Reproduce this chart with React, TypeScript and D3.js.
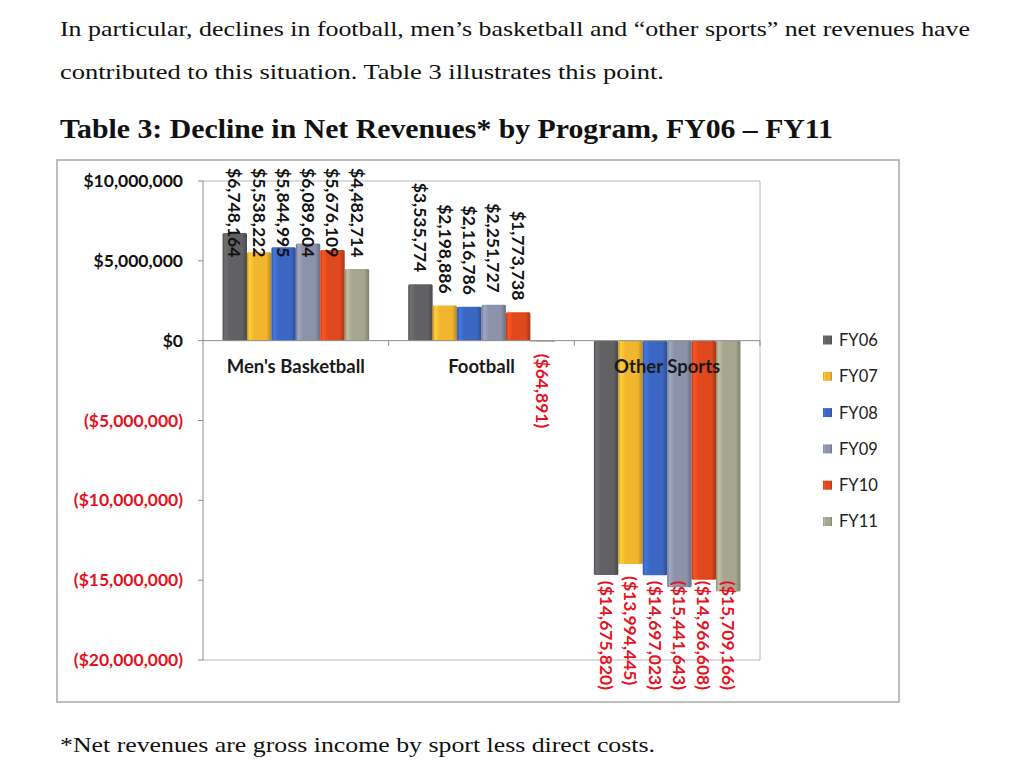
import React, { useEffect, useRef } from "react";
import * as d3 from "d3";

// Net revenue by program, FY06 – FY11
const categories = ["Men's Basketball", "Football", "Other Sports"];
const years = ["FY06", "FY07", "FY08", "FY09", "FY10", "FY11"];
const fy06 = [6748164, 3535774, -14675820];
const fy07 = [5538222, 2198886, -13994445];
const fy08 = [5844995, 2116786, -14697023];
const fy09 = [6089604, 2251727, -15441643];
const fy10 = [5676109, 1773738, -14966608];
const fy11 = [4482714, -64891, -15709166];
const seriesValues = [fy06, fy07, fy08, fy09, fy10, fy11];
const seriesColors = ["#616163", "#f1b52e", "#3b67c3", "#8b92aa", "#e0481d", "#a7a78f"];
const yTicks = [10000000, 5000000, 0, -5000000, -10000000, -15000000, -20000000];

const introLines = [
  "In particular, declines in football, men\u2019s basketball and \u201cother sports\u201d net revenues have",
  "contributed to this situation.  Table 3 illustrates this point.",
];
const titleText = "Table 3:  Decline in Net Revenues* by Program, FY06 \u2013 FY11";
const footnoteText = "*Net revenues are gross income by sport less direct costs.";

const RED = "#e5121f";
const LABEL_FONT = "Lato, 'Open Sans', sans-serif";

const money = (v: number) => {
  const s = "$" + d3.format(",")(Math.abs(Math.round(v)));
  return v < 0 ? `(${s})` : s;
};

export default function App() {
  const ref = useRef<SVGSVGElement | null>(null);

  useEffect(() => {
    const svg = d3.select(ref.current);
    svg.selectAll("*").remove();

    const plot = { left: 203, right: 760, top: 181, bottom: 660 };
    const frame = { x: 57, y: 160, w: 842, h: 542 };

    const y = d3.scaleLinear().domain([-20000000, 10000000]).range([plot.bottom, plot.top]);
    const x0 = d3.scaleBand<string>().domain(categories).range([plot.left, plot.right]).padding(0);
    const x1 = d3
      .scaleBand<string>()
      .domain(years)
      .range([0, x0.bandwidth()])
      .paddingInner(0)
      .paddingOuter(0.8);

    // Gradients giving the bars their rounded, lit look
    const defs = svg.append("defs");
    seriesColors.forEach((c, i) => {
      const base = d3.color(c)!;
      const g = defs
        .append("linearGradient")
        .attr("id", `bar-grad-${i}`)
        .attr("x1", "0").attr("x2", "1").attr("y1", "0").attr("y2", "0");
      g.append("stop").attr("offset", "0%").attr("stop-color", base.darker(0.6).formatHex());
      g.append("stop").attr("offset", "10%").attr("stop-color", base.brighter(0.4).formatHex());
      g.append("stop").attr("offset", "30%").attr("stop-color", base.formatHex());
      g.append("stop").attr("offset", "80%").attr("stop-color", base.formatHex());
      g.append("stop").attr("offset", "100%").attr("stop-color", base.darker(0.8).formatHex());
    });

    // Page text
    const serif = "'Liberation Serif', 'Times New Roman', serif";
    svg.append("text").attr("x", 60).attr("y", 36).attr("font-family", serif).attr("font-size", 22)
      .attr("fill", "#111").attr("textLength", 910).attr("lengthAdjust", "spacingAndGlyphs").text(introLines[0]);
    svg.append("text").attr("x", 60).attr("y", 79).attr("font-family", serif).attr("font-size", 22)
      .attr("fill", "#111").attr("textLength", 604).attr("lengthAdjust", "spacingAndGlyphs").text(introLines[1]);
    svg.append("text").attr("x", 60).attr("y", 138).attr("font-family", serif).attr("font-size", 27)
      .attr("font-weight", "bold").attr("fill", "#111").attr("textLength", 773)
      .attr("lengthAdjust", "spacingAndGlyphs").text(titleText);
    svg.append("text").attr("x", 60).attr("y", 752).attr("font-family", serif).attr("font-size", 22)
      .attr("fill", "#111").attr("textLength", 595).attr("lengthAdjust", "spacingAndGlyphs").text(footnoteText);

    // Chart frame
    svg.append("rect").attr("x", frame.x).attr("y", frame.y).attr("width", frame.w).attr("height", frame.h)
      .attr("fill", "#fff").attr("stroke", "#a9a9a9").attr("stroke-width", 1.5);

    // Plot area border
    svg.append("path")
      .attr("d", `M${plot.left},${plot.top}H${plot.right}V${plot.bottom}H${plot.left}`)
      .attr("fill", "none").attr("stroke", "#b8b8b8").attr("stroke-width", 1);

    // Y axis
    const yAxis = svg.append("g").attr("transform", `translate(${plot.left},0)`);
    yAxis.append("line").attr("y1", plot.top).attr("y2", plot.bottom).attr("stroke", "#8c8c8c");
    yTicks.forEach((t) => {
      yAxis.append("line").attr("x1", -5).attr("x2", 0).attr("y1", y(t)).attr("y2", y(t)).attr("stroke", "#8c8c8c");
      yAxis.append("text").attr("x", -20).attr("y", y(t)).attr("dy", "0.35em").attr("text-anchor", "end")
        .attr("font-family", LABEL_FONT).attr("font-weight", "bold").attr("font-size", 17.5)
        .attr("fill", t < 0 ? RED : "#111").text(money(t));
    });

    // Bars
    const barsG = svg.append("g");
    seriesValues.forEach((vals, si) => {
      vals.forEach((v, ci) => {
        const bx = x0(categories[ci])! + x1(years[si])!;
        const top = y(Math.max(0, v));
        const h = Math.max(1, Math.abs(y(v) - y(0)));
        barsG.append("rect").attr("x", bx).attr("y", top).attr("width", x1.bandwidth()).attr("height", h)
          .attr("fill", `url(#bar-grad-${si})`).attr("rx", 1.5);
      });
    });

    // Zero line with category dividers
    svg.append("line").attr("x1", plot.left).attr("x2", plot.right).attr("y1", y(0)).attr("y2", y(0))
      .attr("stroke", "#8c8c8c");
    categories.forEach((c, i) => {
      if (i === 0) return;
      const xx = x0(c)!;
      svg.append("line").attr("x1", xx).attr("x2", xx).attr("y1", y(0)).attr("y2", y(0) + 5).attr("stroke", "#8c8c8c");
    });
    svg.append("line").attr("x1", plot.right).attr("x2", plot.right).attr("y1", y(0)).attr("y2", y(0) + 5)
      .attr("stroke", "#8c8c8c");

    // Category labels
    categories.forEach((c) => {
      svg.append("text").attr("x", x0(c)! + x0.bandwidth() / 2).attr("y", y(0) + 32).attr("text-anchor", "middle")
        .attr("font-family", LABEL_FONT).attr("font-weight", "bold").attr("font-size", 18.5).attr("fill", "#1a1a1a")
        .text(c);
    });

    // Value labels, rotated, kept inside the frame
    const labelTop = frame.y + 8;
    const labelBottom = frame.y + frame.h - 12;
    seriesValues.forEach((vals, si) => {
      vals.forEach((v, ci) => {
        const cx = x0(categories[ci])! + x1(years[si])! + x1.bandwidth() / 2;
        const t = svg.append("text").attr("font-family", LABEL_FONT).attr("font-weight", "bold")
          .attr("font-size", 17.5).attr("fill", v < 0 ? RED : "#111").attr("dy", "0.36em").text(money(v));
        const len = (t.node() as SVGTextElement).getComputedTextLength();
        let start: number;
        if (v >= 0) {
          start = Math.max(labelTop, y(v) - 12 - len);
        } else {
          start = Math.min(y(v) + 12, labelBottom - len);
        }
        t.attr("transform", `translate(${cx},${start}) rotate(90)`);
      });
    });

    // Legend
    const legend = svg.append("g");
    years.forEach((yr, i) => {
      const ly = 340 + i * 36.3;
      legend.append("rect").attr("x", 823).attr("y", ly - 4.5).attr("width", 9).attr("height", 9)
        .attr("fill", `url(#bar-grad-${i})`);
      legend.append("text").attr("x", 839).attr("y", ly).attr("dy", "0.36em").attr("font-family", LABEL_FONT)
        .attr("font-size", 16.5).attr("fill", "#222").text(yr);
    });
  }, []);

  return (
    <svg
      ref={ref}
      width={1009}
      height={768}
      style={{ position: "absolute", left: 0, top: 0, background: "#fff" }}
    />
  );
}
